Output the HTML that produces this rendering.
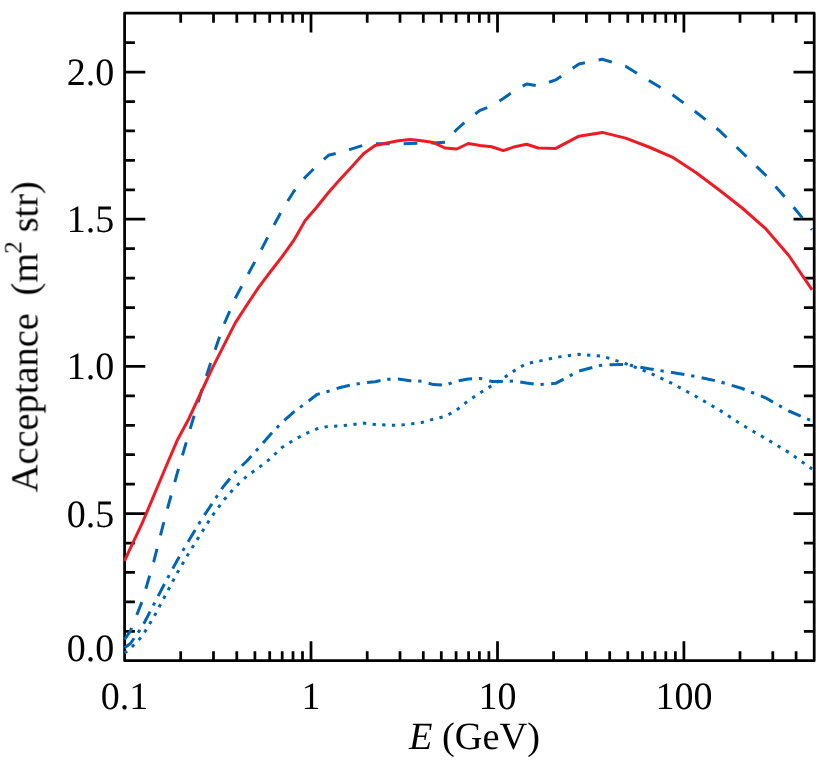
<!DOCTYPE html>
<html><head><meta charset="utf-8"><title>Acceptance</title>
<style>
html,body{margin:0;padding:0;background:#fff;}
svg{display:block;}
text{font-family:"Liberation Serif",serif;fill:#000;text-rendering:geometricPrecision;}
</style></head><body>
<svg width="830" height="760" viewBox="0 0 830 760">
<rect width="830" height="760" fill="#fff"/>
<g stroke="#000" stroke-width="2.75" fill="none" stroke-linecap="butt" stroke-linejoin="round">
<rect x="124.6" y="13.2" width="689.6" height="647.5"/>
<path d="M124.6 631.3h10.3M814.2 631.3h-10.3"/>
<path d="M124.6 601.9h10.3M814.2 601.9h-10.3"/>
<path d="M124.6 572.4h10.3M814.2 572.4h-10.3"/>
<path d="M124.6 543.0h10.3M814.2 543.0h-10.3"/>
<path d="M124.6 513.6h20.7M814.2 513.6h-20.7"/>
<path d="M124.6 484.1h10.3M814.2 484.1h-10.3"/>
<path d="M124.6 454.7h10.3M814.2 454.7h-10.3"/>
<path d="M124.6 425.3h10.3M814.2 425.3h-10.3"/>
<path d="M124.6 395.8h10.3M814.2 395.8h-10.3"/>
<path d="M124.6 366.4h20.7M814.2 366.4h-20.7"/>
<path d="M124.6 337.0h10.3M814.2 337.0h-10.3"/>
<path d="M124.6 307.5h10.3M814.2 307.5h-10.3"/>
<path d="M124.6 278.1h10.3M814.2 278.1h-10.3"/>
<path d="M124.6 248.7h10.3M814.2 248.7h-10.3"/>
<path d="M124.6 219.2h20.7M814.2 219.2h-20.7"/>
<path d="M124.6 189.8h10.3M814.2 189.8h-10.3"/>
<path d="M124.6 160.4h10.3M814.2 160.4h-10.3"/>
<path d="M124.6 130.9h10.3M814.2 130.9h-10.3"/>
<path d="M124.6 101.5h10.3M814.2 101.5h-10.3"/>
<path d="M124.6 72.1h20.7M814.2 72.1h-20.7"/>
<path d="M124.6 42.6h10.3M814.2 42.6h-10.3"/>
<path d="M180.7 660.75v-9.6M180.7 13.2v9.6"/>
<path d="M213.5 660.75v-9.6M213.5 13.2v9.6"/>
<path d="M236.8 660.75v-9.6M236.8 13.2v9.6"/>
<path d="M254.9 660.75v-9.6M254.9 13.2v9.6"/>
<path d="M269.7 660.75v-9.6M269.7 13.2v9.6"/>
<path d="M282.2 660.75v-9.6M282.2 13.2v9.6"/>
<path d="M293.0 660.75v-9.6M293.0 13.2v9.6"/>
<path d="M302.5 660.75v-9.6M302.5 13.2v9.6"/>
<path d="M311.0 660.75v-19.4M311.0 13.2v19.4"/>
<path d="M367.2 660.75v-9.6M367.2 13.2v9.6"/>
<path d="M400.0 660.75v-9.6M400.0 13.2v9.6"/>
<path d="M423.3 660.75v-9.6M423.3 13.2v9.6"/>
<path d="M441.3 660.75v-9.6M441.3 13.2v9.6"/>
<path d="M456.1 660.75v-9.6M456.1 13.2v9.6"/>
<path d="M468.6 660.75v-9.6M468.6 13.2v9.6"/>
<path d="M479.4 660.75v-9.6M479.4 13.2v9.6"/>
<path d="M488.9 660.75v-9.6M488.9 13.2v9.6"/>
<path d="M497.5 660.75v-19.4M497.5 13.2v19.4"/>
<path d="M553.6 660.75v-9.6M553.6 13.2v9.6"/>
<path d="M586.4 660.75v-9.6M586.4 13.2v9.6"/>
<path d="M609.7 660.75v-9.6M609.7 13.2v9.6"/>
<path d="M627.8 660.75v-9.6M627.8 13.2v9.6"/>
<path d="M642.5 660.75v-9.6M642.5 13.2v9.6"/>
<path d="M655.0 660.75v-9.6M655.0 13.2v9.6"/>
<path d="M665.8 660.75v-9.6M665.8 13.2v9.6"/>
<path d="M675.4 660.75v-9.6M675.4 13.2v9.6"/>
<path d="M683.9 660.75v-19.4M683.9 13.2v19.4"/>
<path d="M740.0 660.75v-9.6M740.0 13.2v9.6"/>
<path d="M772.8 660.75v-9.6M772.8 13.2v9.6"/>
<path d="M796.1 660.75v-9.6M796.1 13.2v9.6"/>
</g>
<g fill="none" stroke-width="3.0" stroke-linejoin="round">
<polyline stroke="#0066b3" stroke-dasharray="3.3 6.375" stroke-dashoffset="0.15" points="124.6,653.0 130.4,648.5 142.1,636.3 153.7,617.3 165.4,595.3 177.0,573.2 188.7,553.4 200.3,534.6 212.0,516.1 223.6,500.3 235.3,487.0 246.9,476.1 258.6,467.8 270.2,458.7 281.9,447.5 293.6,440.2 305.2,433.8 316.9,428.8 328.5,426.3 340.2,426.0 351.8,424.6 363.5,423.1 375.1,424.5 386.8,425.1 398.4,425.4 410.1,424.0 421.7,422.5 433.4,419.1 445.0,416.5 456.7,410.0 468.3,400.7 480.0,393.0 491.6,385.7 503.3,378.2 514.9,370.2 526.6,363.5 538.2,361.4 555.7,357.4 579.0,354.3 602.3,356.2 625.6,363.6 648.9,372.5 672.2,383.5 695.5,396.2 718.9,409.7 742.2,424.9 765.5,438.4 788.8,452.4 812.1,469.0"/>
<polyline stroke="#0066b3" stroke-dasharray="13.6 6.85 3.3 7.35" points="124.6,647.7 130.4,643.5 142.1,627.0 153.7,604.6 165.4,582.2 177.0,560.7 188.7,540.7 200.3,521.4 212.0,503.7 223.6,486.2 235.3,472.0 246.9,461.0 258.6,448.0 270.2,434.8 281.9,422.5 293.6,412.1 305.2,403.6 316.9,394.5 328.5,391.2 340.2,387.5 351.8,384.8 363.5,382.8 375.1,381.7 386.8,379.3 398.4,379.0 410.1,380.7 421.7,381.2 433.4,384.6 445.0,385.3 456.7,381.0 468.3,379.1 480.0,378.4 491.6,381.4 503.3,381.4 514.9,381.0 526.6,383.0 538.2,384.6 555.7,383.3 579.0,371.0 602.3,365.0 625.6,364.4 648.9,368.8 672.2,372.5 695.5,376.4 718.9,381.5 742.2,388.5 765.5,397.8 788.8,411.0 812.1,421.0"/>
<polyline stroke="#0066b3" stroke-dasharray="13.7 13.95" points="124.6,639.5 130.4,631.0 142.1,601.5 153.7,561.8 165.4,516.2 177.0,474.0 188.7,433.9 200.3,395.0 212.0,358.8 223.6,325.3 235.3,298.3 246.9,276.3 258.6,254.9 270.2,232.5 281.9,210.4 293.6,191.7 305.2,177.2 316.9,165.7 328.5,155.3 340.2,152.4 351.8,148.9 363.5,145.2 375.1,143.8 386.8,143.7 398.4,143.9 410.1,143.6 421.7,143.1 433.4,142.9 445.0,142.3 456.7,129.5 468.3,119.1 480.0,110.4 491.6,106.0 503.3,98.5 514.9,90.4 526.6,84.0 538.2,86.0 555.7,79.9 579.0,64.0 602.3,59.3 625.6,66.2 648.9,80.5 672.2,94.5 695.5,111.7 718.9,130.2 742.2,152.5 765.5,175.0 788.8,201.4 812.1,229.7"/>
<polyline stroke="#ed1c24" points="124.6,560.9 130.4,548.2 142.1,523.4 153.7,495.9 165.4,468.0 177.0,440.8 188.7,419.0 200.3,394.0 212.0,368.9 223.6,345.8 235.3,322.9 246.9,305.0 258.6,287.4 270.2,272.0 281.9,256.9 293.6,240.7 305.2,220.4 316.9,207.0 328.5,192.5 340.2,179.3 351.8,166.7 363.5,153.8 375.1,145.5 386.8,143.0 398.4,140.8 410.1,139.4 421.7,140.8 433.4,142.6 445.0,148.0 456.7,149.0 468.3,143.5 480.0,145.5 491.6,146.8 503.3,150.6 514.9,146.7 526.6,144.2 538.2,148.0 555.7,148.4 579.0,136.2 602.3,132.4 625.6,138.1 648.9,147.0 672.2,157.1 695.5,172.3 718.9,189.8 742.2,208.0 765.5,228.5 788.8,255.5 812.1,289.8"/>
</g>
<g font-size="38.4px" opacity="0.999">
<text transform="translate(114.2 526.5) scale(0.99 1.01)" text-anchor="end">0.5</text>
<text transform="translate(114.2 379.3) scale(0.99 1.01)" text-anchor="end">1.0</text>
<text transform="translate(114.2 232.1) scale(0.99 1.01)" text-anchor="end">1.5</text>
<text transform="translate(114.2 85.0) scale(0.99 1.01)" text-anchor="end">2.0</text>
<text transform="translate(114.2 660.9) scale(0.99 1.01)" text-anchor="end">0.0</text>
<text transform="translate(124.6 708.8) scale(0.99 1.01)" text-anchor="middle">0.1</text>
<text transform="translate(311.0 708.8) scale(0.99 1.01)" text-anchor="middle">1</text>
<text transform="translate(497.5 708.8) scale(0.99 1.01)" text-anchor="middle">10</text>
<text transform="translate(683.9 708.8) scale(0.99 1.01)" text-anchor="middle">100</text>
<text x="474.5" y="748.9" text-anchor="middle"><tspan font-style="italic">E</tspan> (GeV)</text>
<text transform="translate(37.4 492.3) rotate(-90)" x="0" y="0">Acceptance <tspan dx="8">(m</tspan><tspan font-size="25px" dy="-16.2" dx="-0.8">2</tspan><tspan dy="16.2" dx="-0.7"> str)</tspan></text>
</g>
</svg></body></html>
